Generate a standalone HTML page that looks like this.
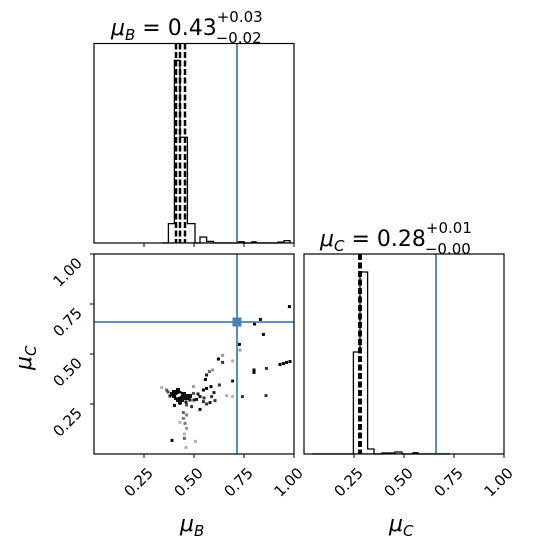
<!DOCTYPE html>
<html><head><meta charset="utf-8"><style>
html,body{margin:0;padding:0;background:#fff;}
svg{display:block;font-family:"DejaVu Sans","Liberation Sans",sans-serif;}
</style></head><body>
<svg id="c" width="533" height="548" viewBox="0 0 533 548" xmlns="http://www.w3.org/2000/svg"></svg>
<script>
// ---- data ----
const tickValues = [0.25, 0.5, 0.75, 1.0];
const tickLabels = ["0.25", "0.50", "0.75", "1.00"];
const truthB = 0.715;
const truthC = 0.66;
const quantB = [0.41, 0.43, 0.455];
const quantC = [0.28, 0.28, 0.28];
const histBEdges = [0.34, 0.372, 0.402, 0.430, 0.467, 0.505, 0.530, 0.563, 0.597, 0.72, 0.75, 0.79, 0.81, 0.92, 0.95, 0.98];
const histBHeights = [0.0, 0.097, 0.915, 0.53, 0.097, 0.0, 0.03, 0.008, 0.0, 0.006, 0.0, 0.006, 0.0, 0.004, 0.012];
const histCEdges = [0.04, 0.247, 0.28, 0.318, 0.35, 0.39, 0.455, 0.49, 0.505, 0.545, 0.57, 0.73];
const histCHeights = [0.0, 0.51, 0.91, 0.025, 0.0, 0.005, 0.01, 0.0, 0.0, 0.006, 0.0];
const ptsX = [0.977,0.832,0.803,0.847,0.727,0.73,0.622,0.643,0.643,0.693,0.8,0.8,0.862,0.93,0.947,0.963,0.98,0.593,0.577,0.563,0.557,0.693,0.627,0.585,0.563,0.547,0.497,0.338,0.363,0.742,0.86,0.663,0.693,0.6,0.588,0.605,0.58,0.563,0.547,0.53,0.488,0.463,0.447,0.463,0.447,0.43,0.455,0.463,0.452,0.452,0.46,0.39,0.507,0.402,0.43,0.513,0.53,0.497,0.48,0.37,0.38,0.45,0.47,0.5,0.52,0.55,0.46,0.41];
const ptsY = [0.737,0.673,0.65,0.598,0.548,0.52,0.475,0.458,0.493,0.465,0.42,0.408,0.428,0.448,0.452,0.458,0.462,0.42,0.412,0.395,0.373,0.365,0.345,0.337,0.328,0.32,0.337,0.332,0.32,0.287,0.292,0.292,0.287,0.307,0.287,0.267,0.257,0.25,0.262,0.223,0.237,0.245,0.207,0.195,0.178,0.158,0.153,0.128,0.1,0.078,0.033,0.068,0.063,0.243,0.253,0.273,0.287,0.303,0.27,0.31,0.29,0.3,0.28,0.27,0.3,0.28,0.26,0.3];
const ptsA = [1,1,1,1,1,0.4,1,0.8,0.4,0.3,1,1,0.8,1,1,1,1,0.4,0.6,0.9,1,0.9,0.8,1,1,1,0.4,0.3,0.6,0.8,0.8,0.3,0.3,0.9,0.8,0.8,0.9,0.8,0.8,1,0.8,0.7,0.6,0.5,0.5,0.3,0.5,0.4,0.3,0.6,0.3,1,0.3,1,1,0.9,0.9,0.7,0.9,0.7,0.9,1,1,0.9,0.9,0.8,0.9,1];
const clusterX = [0.40,0.41,0.42,0.43,0.44,0.45,0.41,0.42,0.43,0.44,0.46,0.47,0.40,0.42,0.45,0.48,0.43,0.39];
const clusterY = [0.29,0.30,0.31,0.30,0.29,0.28,0.28,0.27,0.28,0.27,0.29,0.28,0.31,0.32,0.30,0.29,0.26,0.30];

const svg = document.getElementById('c');
const NS = 'http://www.w3.org/2000/svg';
function mk(tag, attrs, parent){ const e=document.createElementNS(NS,tag); for(const k in attrs) e.setAttribute(k,attrs[k]); (parent||svg).appendChild(e); return e; }

const P = {
  tl:{x0:94,x1:294,y0:243,y1:43.5},
  bl:{x0:94,x1:294,y0:454,y1:254},
  br:{x0:304,x1:504,y0:454,y1:254}
};
const sx = (p,v)=>p.x0+(p.x1-p.x0)*v;
const sy = (p,v)=>p.y0+(p.y1-p.y0)*v;

function frame(p,name){
  const r = mk('rect',{x:p.x0,y:p.y1,width:p.x1-p.x0,height:p.y0-p.y1,fill:'none',stroke:'#000','stroke-width':1.2});
  
  
}
function xticks(p,labels,name){
  const g = mk('g',{});
  
  
  tickValues.forEach((v,i)=>{
    const x=sx(p,v);
    mk('line',{x1:x,x2:x,y1:p.y0,y2:p.y0+4,stroke:'#000','stroke-width':1},g);
    if(labels){
      const ax=x+10, ay=p.y0+20;
      const t=mk('text',{x:ax,y:ay,'font-size':15,'text-anchor':'end',transform:`rotate(-45 ${ax} ${ay})`},g);
      t.textContent=tickLabels[i];
      
      
    }
  });
}
function yticks(p,name){
  const g = mk('g',{});
  
  
  tickValues.forEach((v,i)=>{
    const y=sy(p,v);
    mk('line',{x1:p.x0-4,x2:p.x0,y1:y,y2:y,stroke:'#000','stroke-width':1},g);
    const ax=p.x0-11, ay=y+10;
    const t=mk('text',{x:ax,y:ay,'font-size':15,'text-anchor':'end',transform:`rotate(-45 ${ax} ${ay})`},g);
    t.textContent=tickLabels[i];
    
    
  });
}
function hist(p,edges,heights,name){
  let d='';
  const base=sy(p,0);
  d+=`M${sx(p,edges[0])},${base}`;
  heights.forEach((h,i)=>{
    d+=` L${sx(p,edges[i])},${sy(p,h)} L${sx(p,edges[i+1])},${sy(p,h)}`;
  });
  d+=` L${sx(p,edges[edges.length-1])},${base}`;
  mk('line',{x1:sx(p,edges[0]),x2:sx(p,edges[edges.length-1]),y1:base-0.5,y2:base-0.5,stroke:'#bbb','stroke-width':1.2});
  const e=mk('path',{d:d,fill:'none',stroke:'#000','stroke-width':1.3});
  
  
}
function vline(p,v,color,dash,w,name){
  const x=sx(p,v);
  const e=mk('line',{x1:x,x2:x,y1:p.y1,y2:p.y0,stroke:color,'stroke-width':w});
  if(dash) e.setAttribute('stroke-dasharray',dash);
  
  
}

hist(P.tl,histBEdges,histBHeights,'mu-b-histogram');
quantB.forEach(q=>vline(P.tl,q,'#000','6,2.5',2.5,'mu-b-quantile-line'));
vline(P.tl,truthB,'#4682b4',null,1.8,'mu-b-truth-line');
frame(P.tl,'mu-b-hist-frame');
xticks(P.tl,false,'mu-b-hist-x-ticks');

const sg = mk('g',{});


ptsX.forEach((v,i)=>{
  const c=mk('rect',{x:sx(P.bl,v)-1.5,y:sy(P.bl,ptsY[i])-1.5,width:3,height:3,fill:'#000','fill-opacity':ptsA[i]},sg);
  
  
});
clusterX.forEach((v,i)=>{
  const c=mk('rect',{x:sx(P.bl,v)-2,y:sy(P.bl,clusterY[i])-2,width:4,height:4,fill:'#111'},sg);
  
  
});
const ell = mk('ellipse',{cx:sx(P.bl,0.42),cy:sy(P.bl,0.295),rx:6,ry:4.5,fill:'#000'});


const ell2 = mk('ellipse',{cx:sx(P.bl,0.423),cy:sy(P.bl,0.293),rx:3,ry:1.5,fill:'#fff',transform:`rotate(-30 ${sx(P.bl,0.423)} ${sy(P.bl,0.293)})`});


vline(P.bl,truthB,'#4682b4',null,1.8,'mu-b-truth-line-2d');
const hl = mk('line',{x1:P.bl.x0,x2:P.bl.x1,y1:sy(P.bl,truthC),y2:sy(P.bl,truthC),stroke:'#4682b4','stroke-width':1.8});


const tm = mk('rect',{x:sx(P.bl,truthB)-4.5,y:sy(P.bl,truthC)-4.5,width:9,height:9,fill:'#4682b4'});


frame(P.bl,'scatter-frame');
xticks(P.bl,true,'scatter-x-ticks');
yticks(P.bl,'scatter-y-ticks');

hist(P.br,histCEdges,histCHeights,'mu-c-histogram');
quantC.forEach(q=>vline(P.br,q,'#000','6,2.5',3.5,'mu-c-quantile-line'));
vline(P.br,truthC,'#4682b4',null,1.8,'mu-c-truth-line');
frame(P.br,'mu-c-hist-frame');
xticks(P.br,true,'mu-c-hist-x-ticks');
</script>
<svg width="533" height="548" style="position:absolute;left:0;top:0" xmlns="http://www.w3.org/2000/svg">
  <text x="111" y="35" font-size="22" font-family="DejaVu Sans, Liberation Sans, sans-serif"><tspan font-style="italic">μ</tspan><tspan font-size="15" dy="5" font-style="italic">B</tspan><tspan dy="-5"> = 0.43</tspan><tspan font-size="15" dy="-13">+0.03</tspan><tspan font-size="15" dx="-47" dy="21">−0.02</tspan></text>
  <text x="320" y="246" font-size="22" font-family="DejaVu Sans, Liberation Sans, sans-serif"><tspan font-style="italic">μ</tspan><tspan font-size="15" dy="5" font-style="italic">C</tspan><tspan dy="-5"> = 0.28</tspan><tspan font-size="15" dy="-13">+0.01</tspan><tspan font-size="15" dx="-47" dy="21">−0.00</tspan></text>
  <text x="180" y="531" font-size="22" font-style="italic" font-family="DejaVu Sans, Liberation Sans, sans-serif">μ<tspan font-size="15" dy="5">B</tspan></text>
  <text x="389" y="531" font-size="22" font-style="italic" font-family="DejaVu Sans, Liberation Sans, sans-serif">μ<tspan font-size="15" dy="5">C</tspan></text>
  <text x="31" y="370" font-size="22" font-style="italic" font-family="DejaVu Sans, Liberation Sans, sans-serif" transform="rotate(-90 31 370)">μ<tspan font-size="15" dy="5">C</tspan></text>
</svg>
</body></html>
